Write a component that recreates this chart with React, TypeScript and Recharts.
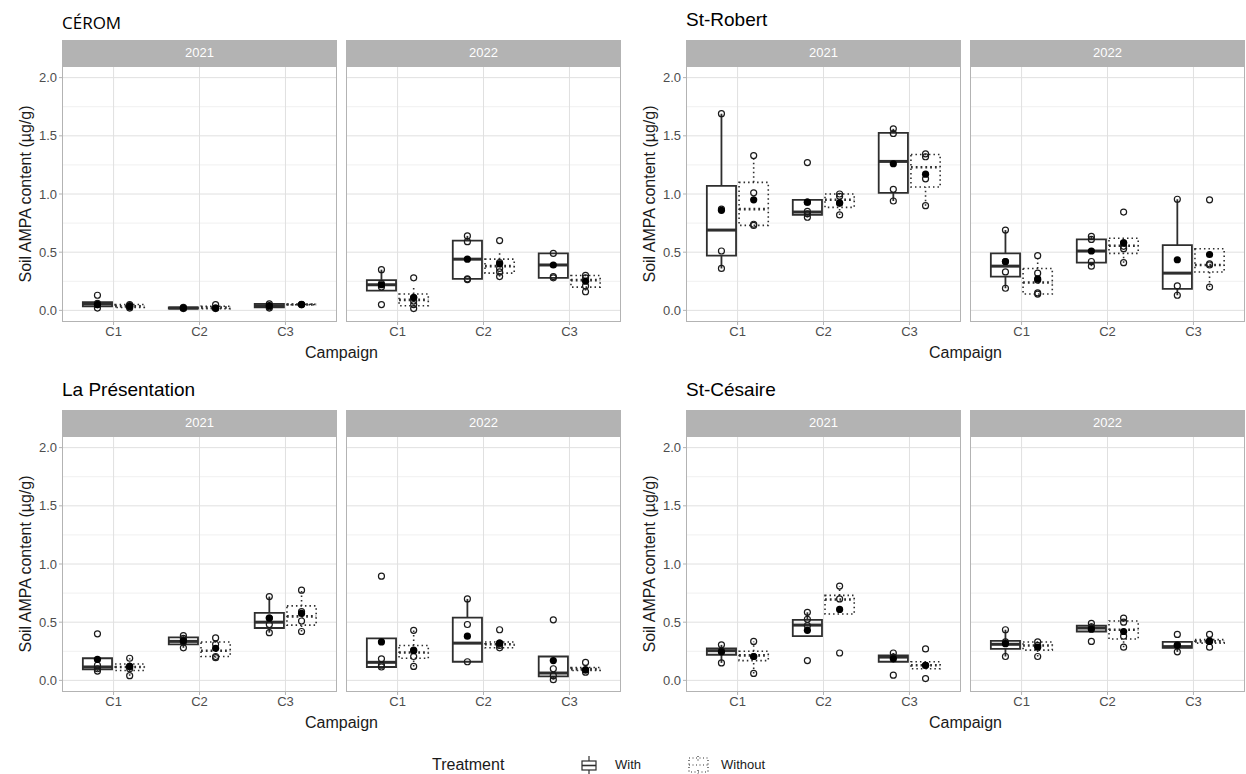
import React from "react";
import {
  ComposedChart,
  XAxis,
  YAxis,
  CartesianGrid,
  Scatter,
  ReferenceArea,
  ReferenceLine,
} from "recharts";

type Treatment = "With" | "Without";
type Box = {
  c: string;
  t: Treatment;
  lo: number;
  q1: number;
  med: number;
  q3: number;
  hi: number;
  mean: number;
  pts: number[];
};

const campaigns = ["C1", "C2", "C3"];
const years = ["2021", "2022"];
const sites = ["CÉROM", "St-Robert", "La Présentation", "St-Césaire"];
const yTicks = [0, 0.5, 1, 1.5, 2];
const yMinor = [0.25, 0.75, 1.25, 1.75];

// [lower whisker, q1, median, q3, upper whisker], mean, raw points
const bx = (c: string, t: Treatment, s: number[], mean: number, pts: number[]): Box => ({
  c, t, lo: s[0], q1: s[1], med: s[2], q3: s[3], hi: s[4], mean, pts,
});

const cerom2021: Box[] = [
  bx("C1", "With", [0.02, 0.035, 0.055, 0.07, 0.07], 0.05, [0.13, 0.06, 0.05, 0.02]),
  bx("C1", "Without", [0.02, 0.025, 0.035, 0.05, 0.05], 0.035, [0.05, 0.04, 0.03, 0.02]),
  bx("C2", "With", [0.015, 0.015, 0.02, 0.025, 0.025], 0.02, [0.025, 0.02, 0.015]),
  bx("C2", "Without", [0.01, 0.015, 0.025, 0.035, 0.04], 0.02, [0.05, 0.02, 0.015]),
  bx("C3", "With", [0.015, 0.025, 0.04, 0.055, 0.055], 0.04, [0.055, 0.03, 0.02]),
  bx("C3", "Without", [0.045, 0.048, 0.05, 0.053, 0.055], 0.05, [0.052, 0.05]),
];
const cerom2022: Box[] = [
  bx("C1", "With", [0.17, 0.17, 0.22, 0.26, 0.35], 0.22, [0.35, 0.23, 0.2, 0.05]),
  bx("C1", "Without", [0.02, 0.04, 0.09, 0.14, 0.2], 0.11, [0.28, 0.11, 0.08, 0.05, 0.015]),
  bx("C2", "With", [0.265, 0.27, 0.44, 0.6, 0.64], 0.44, [0.64, 0.59, 0.27, 0.265]),
  bx("C2", "Without", [0.29, 0.32, 0.38, 0.44, 0.5], 0.4, [0.6, 0.41, 0.36, 0.33, 0.29]),
  bx("C3", "With", [0.28, 0.28, 0.39, 0.49, 0.49], 0.39, [0.49, 0.29, 0.28]),
  bx("C3", "Without", [0.17, 0.2, 0.26, 0.3, 0.3], 0.25, [0.3, 0.28, 0.21, 0.16]),
];
const stRobert2021: Box[] = [
  bx("C1", "With", [0.36, 0.47, 0.69, 1.07, 1.69], 0.86, [1.69, 0.87, 0.51, 0.36]),
  bx("C1", "Without", [0.73, 0.73, 0.87, 1.1, 1.33], 0.95, [1.33, 1.01, 0.74, 0.73]),
  bx("C2", "With", [0.8, 0.82, 0.845, 0.95, 0.95], 0.93, [1.27, 0.93, 0.85, 0.83, 0.8]),
  bx("C2", "Without", [0.82, 0.885, 0.95, 1.0, 1.0], 0.925, [1.0, 0.98, 0.92, 0.82]),
  bx("C3", "With", [0.94, 1.01, 1.28, 1.525, 1.56], 1.26, [1.56, 1.52, 1.04, 0.94]),
  bx("C3", "Without", [0.9, 1.06, 1.23, 1.34, 1.345], 1.17, [1.345, 1.32, 1.13, 0.9]),
];
const stRobert2022: Box[] = [
  bx("C1", "With", [0.19, 0.29, 0.38, 0.49, 0.69], 0.42, [0.69, 0.42, 0.33, 0.19]),
  bx("C1", "Without", [0.14, 0.14, 0.24, 0.36, 0.47], 0.27, [0.47, 0.32, 0.26, 0.15, 0.14]),
  bx("C2", "With", [0.38, 0.41, 0.51, 0.61, 0.635], 0.51, [0.635, 0.61, 0.42, 0.38]),
  bx("C2", "Without", [0.41, 0.49, 0.555, 0.62, 0.62], 0.58, [0.845, 0.58, 0.55, 0.53, 0.41]),
  bx("C3", "With", [0.13, 0.185, 0.32, 0.56, 0.955], 0.435, [0.955, 0.21, 0.13]),
  bx("C3", "Without", [0.2, 0.33, 0.39, 0.53, 0.53], 0.48, [0.95, 0.4, 0.39, 0.2]),
];
const laPres2021: Box[] = [
  bx("C1", "With", [0.08, 0.095, 0.115, 0.19, 0.19], 0.18, [0.4, 0.13, 0.1, 0.08]),
  bx("C1", "Without", [0.04, 0.085, 0.115, 0.14, 0.19], 0.12, [0.19, 0.12, 0.1, 0.04]),
  bx("C2", "With", [0.28, 0.31, 0.335, 0.37, 0.385], 0.34, [0.385, 0.36, 0.33, 0.28]),
  bx("C2", "Without", [0.195, 0.205, 0.255, 0.33, 0.365], 0.275, [0.365, 0.31, 0.205, 0.195]),
  bx("C3", "With", [0.41, 0.45, 0.5, 0.58, 0.72], 0.535, [0.72, 0.535, 0.48, 0.41]),
  bx("C3", "Without", [0.42, 0.475, 0.55, 0.64, 0.775], 0.575, [0.775, 0.59, 0.51, 0.42]),
];
const laPres2022: Box[] = [
  bx("C1", "With", [0.115, 0.115, 0.155, 0.36, 0.36], 0.33, [0.895, 0.185, 0.13, 0.115]),
  bx("C1", "Without", [0.12, 0.19, 0.24, 0.3, 0.43], 0.255, [0.43, 0.26, 0.205, 0.12]),
  bx("C2", "With", [0.16, 0.16, 0.32, 0.54, 0.7], 0.38, [0.7, 0.48, 0.16]),
  bx("C2", "Without", [0.28, 0.28, 0.31, 0.33, 0.33], 0.32, [0.435, 0.32, 0.3, 0.28]),
  bx("C3", "With", [0.006, 0.034, 0.063, 0.205, 0.205], 0.17, [0.52, 0.1, 0.04, 0.006]),
  bx("C3", "Without", [0.07, 0.085, 0.097, 0.11, 0.11], 0.09, [0.154, 0.09, 0.07]),
];
const stCesaire2021: Box[] = [
  bx("C1", "With", [0.15, 0.22, 0.255, 0.275, 0.305], 0.245, [0.305, 0.25, 0.15]),
  bx("C1", "Without", [0.06, 0.17, 0.215, 0.25, 0.335], 0.205, [0.335, 0.205, 0.06]),
  bx("C2", "With", [0.38, 0.38, 0.475, 0.52, 0.585], 0.43, [0.585, 0.525, 0.47, 0.17]),
  bx("C2", "Without", [0.57, 0.57, 0.695, 0.73, 0.81], 0.61, [0.81, 0.7, 0.235]),
  bx("C3", "With", [0.16, 0.16, 0.2, 0.215, 0.235], 0.185, [0.235, 0.2, 0.045]),
  bx("C3", "Without", [0.1, 0.1, 0.13, 0.16, 0.16], 0.13, [0.27, 0.13, 0.015]),
];
const stCesaire2022: Box[] = [
  bx("C1", "With", [0.205, 0.27, 0.31, 0.34, 0.435], 0.315, [0.435, 0.33, 0.205]),
  bx("C1", "Without", [0.205, 0.26, 0.3, 0.33, 0.33], 0.285, [0.33, 0.3, 0.205]),
  bx("C2", "With", [0.42, 0.42, 0.45, 0.47, 0.49], 0.44, [0.49, 0.46, 0.335]),
  bx("C2", "Without", [0.285, 0.355, 0.435, 0.51, 0.535], 0.42, [0.535, 0.5, 0.38, 0.285]),
  bx("C3", "With", [0.245, 0.28, 0.29, 0.33, 0.33], 0.3, [0.395, 0.305, 0.245]),
  bx("C3", "Without", [0.32, 0.32, 0.335, 0.35, 0.35], 0.335, [0.395, 0.34, 0.285]),
];

const siteData = [
  [cerom2021, cerom2022],
  [stRobert2021, stRobert2022],
  [laPres2021, laPres2022],
  [stCesaire2021, stCesaire2022],
];

const FONT = "'Liberation Sans', Arial, sans-serif";
const GREY70 = "#b3b3b3";
const BOX_STROKE = "#2e2e2e";
const FACET_W = 275;
const PLOT_H = 256;
const STRIP_H = 26;
const X_H = 26;
const Y_W = 27;
const DODGE = 0.1875;
const HALF = 0.17;
const colLeft = [62, 686];
const facetStep = 284;
const rowTop = [66, 436];

function boxMarks(b: Box, key: string) {
  const x = campaigns.indexOf(b.c) + 1 + (b.t === "With" ? -DODGE : DODGE);
  const dotted = b.t === "Without";
  const dash = dotted ? "1.5 3" : undefined;
  const lw = dotted ? 1.6 : 1.8;
  const els = [
    <ReferenceArea
      key={key + "box"}
      x1={x - HALF}
      x2={x + HALF}
      y1={b.q1}
      y2={b.q3}
      fill="none"
      fillOpacity={0}
      stroke={BOX_STROKE}
      strokeWidth={lw}
      strokeDasharray={dash}
      ifOverflow="visible"
    />,
    <ReferenceLine
      key={key + "med"}
      segment={[{ x: x - HALF, y: b.med }, { x: x + HALF, y: b.med }]}
      stroke={BOX_STROKE}
      strokeWidth={dotted ? 2.6 : 3}
      strokeDasharray={dotted ? "1.8 3" : undefined}
      ifOverflow="visible"
    />,
  ];
  if (b.hi > b.q3)
    els.push(
      <ReferenceLine
        key={key + "hi"}
        segment={[{ x, y: b.q3 }, { x, y: b.hi }]}
        stroke={BOX_STROKE}
        strokeWidth={lw}
        strokeDasharray={dash}
        ifOverflow="visible"
      />
    );
  if (b.lo < b.q1)
    els.push(
      <ReferenceLine
        key={key + "lo"}
        segment={[{ x, y: b.lo }, { x, y: b.q1 }]}
        stroke={BOX_STROKE}
        strokeWidth={lw}
        strokeDasharray={dash}
        ifOverflow="visible"
      />
    );
  return els;
}

function Facet({ data, year, left, top, showY }: { data: Box[]; year: string; left: number; top: number; showY: boolean }) {
  const yw = showY ? Y_W : 0;
  const xOf = (b: Box) => campaigns.indexOf(b.c) + 1 + (b.t === "With" ? -DODGE : DODGE);
  const raw = data.flatMap((b) => b.pts.map((v) => ({ x: xOf(b), y: v })));
  const means = data.map((b) => ({ x: xOf(b), y: b.mean }));

  return (
    <>
      <div
        style={{
          position: "absolute",
          left,
          top: top - STRIP_H,
          width: FACET_W,
          height: STRIP_H,
          background: GREY70,
          color: "#fff",
          fontFamily: FONT,
          fontSize: 13,
          lineHeight: STRIP_H + "px",
          textAlign: "center",
        }}
      >
        {year}
      </div>
      <div style={{ position: "absolute", left: left - yw, top }}>
        <ComposedChart
          width={FACET_W + yw}
          height={PLOT_H + X_H}
          margin={{ top: 0, right: 0, bottom: 0, left: 0 }}
        >
          <CartesianGrid vertical={false} horizontalValues={yMinor} stroke="#f0f0f0" />
          <CartesianGrid horizontalValues={yTicks} verticalValues={[1, 2, 3]} stroke="#e0e0e0" />
          <XAxis
            type="number"
            dataKey="x"
            domain={[0.4, 3.6]}
            ticks={[1, 2, 3]}
            interval={0}
            allowDataOverflow
            tickFormatter={(v: number) => campaigns[Math.round(v) - 1]}
            height={X_H}
            axisLine={false}
            tickSize={3}
            tickMargin={2}
            tickLine={{ stroke: GREY70 }}
            tick={{ fontSize: 13, fill: "#4d4d4d", fontFamily: FONT }}
          />
          <YAxis
            type="number"
            dataKey="y"
            domain={[-0.1, 2.1]}
            ticks={yTicks}
            allowDataOverflow
            hide={!showY}
            width={yw}
            tickFormatter={(v: number) => v.toFixed(1)}
            axisLine={false}
            tickSize={3}
            tickMargin={2}
            tickLine={{ stroke: GREY70 }}
            tick={{ fontSize: 13, fill: "#4d4d4d", fontFamily: FONT }}
          />
          {data.flatMap((b, i) => boxMarks(b, year + i))}
          <Scatter
            data={raw}
            isAnimationActive={false}
            shape={(p: any) => (
              <circle cx={p.cx} cy={p.cy} r={3} fill="none" stroke="#1a1a1a" strokeWidth={1.2} />
            )}
          />
          <Scatter
            data={means}
            isAnimationActive={false}
            shape={(p: any) => <circle cx={p.cx} cy={p.cy} r={3.6} fill="#000" />}
          />
        </ComposedChart>
      </div>
      <div
        style={{
          position: "absolute",
          left,
          top,
          width: FACET_W,
          height: PLOT_H,
          border: "1px solid " + GREY70,
          boxSizing: "border-box",
          pointerEvents: "none",
        }}
      />
    </>
  );
}

export default function App() {
  return (
    <div style={{ position: "absolute", left: 0, top: 0, width: 1246, height: 774, background: "#fff", overflow: "hidden" }}>
      <svg width={1246} height={774} style={{ position: "absolute", left: 0, top: 0 }}>
        {sites.map((s, i) => {
          const col = i % 2;
          const row = Math.floor(i / 2);
          const left = colLeft[col];
          const top = rowTop[row];
          const isCerom = i === 0;
          const midX = left + (facetStep + FACET_W) / 2;
          return (
            <g key={s}>
              <text
                x={left}
                y={isCerom ? 29 : top - 40}
                fontFamily={isCerom ? "'Open Sans', sans-serif" : FONT}
                fontSize={isCerom ? 17 : 19}
                fill="#000"
              >
                {s}
              </text>
              <text
                transform={`translate(${left - 31}, ${top + PLOT_H / 2}) rotate(-90)`}
                textAnchor="middle"
                fontFamily={FONT}
                fontSize={16}
                fill="#1a1a1a"
              >
                Soil AMPA content (µg/g)
              </text>
              <text x={midX} y={top + PLOT_H + 36} textAnchor="middle" fontFamily={FONT} fontSize={16} fill="#1a1a1a">
                Campaign
              </text>
            </g>
          );
        })}
        {/* legend */}
        <text x={432} y={770} fontFamily={FONT} fontSize={16} fill="#1a1a1a">Treatment</text>
        <g stroke={BOX_STROKE} strokeWidth={1.2} fill="none">
          <line x1={589} y1={756} x2={589} y2={761} />
          <line x1={589} y1={770} x2={589} y2={775} />
          <rect x={582} y={761} width={14} height={9} />
          <line x1={582} y1={765.5} x2={596} y2={765.5} strokeWidth={1.6} />
        </g>
        <text x={615} y={769} fontFamily={FONT} fontSize={13} fill="#1a1a1a">With</text>
        <g stroke={BOX_STROKE} strokeWidth={1.2} fill="none" strokeDasharray="1 2.5">
          <line x1={698} y1={756} x2={698} y2={761} />
          <line x1={698} y1={770} x2={698} y2={775} />
          <rect x={689} y={758} width={19} height={14} />
          <line x1={689} y1={765} x2={708} y2={765} />
        </g>
        <text x={721} y={769} fontFamily={FONT} fontSize={13} fill="#1a1a1a">Without</text>
      </svg>
      {sites.map((s, i) =>
        years.map((yr, j) => (
          <Facet
            key={s + yr}
            data={siteData[i][j]}
            year={yr}
            left={colLeft[i % 2] + j * facetStep}
            top={rowTop[Math.floor(i / 2)]}
            showY={j === 0}
          />
        ))
      )}
    </div>
  );
}
